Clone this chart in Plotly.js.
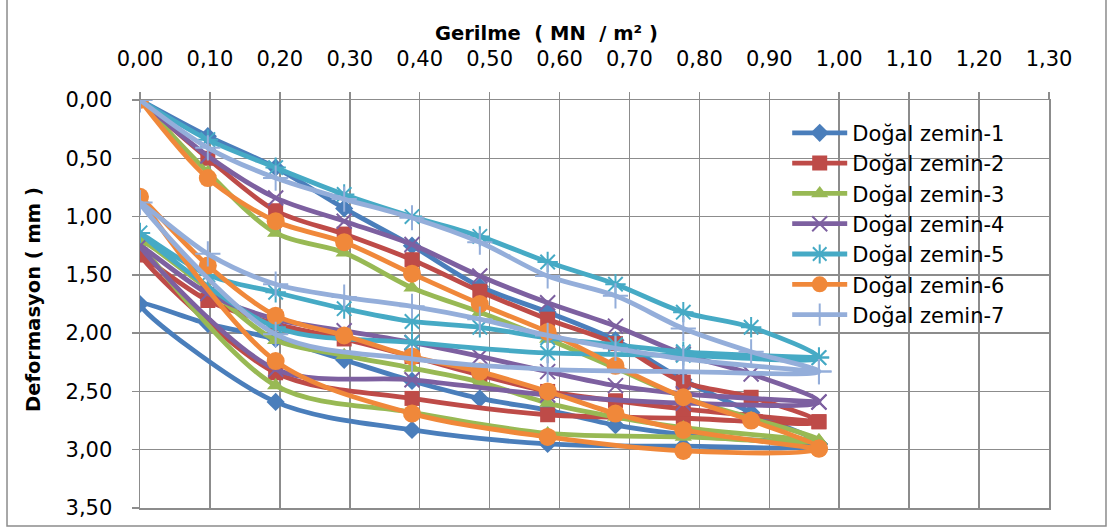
<!DOCTYPE html>
<html>
<head>
<meta charset="utf-8">
<script src="https://cdn.plot.ly/plotly-3.0.1.min.js"></script>
<style>
  html, body { margin: 0; padding: 0; background: #ffffff; }
  #chart { width: 1112px; height: 528px; }
</style>
</head>
<body>
<div id="chart"></div>
<script>
// Stress steps (MN/m²)
const loadStress   = [0.000, 0.097, 0.194, 0.292, 0.389, 0.486, 0.583, 0.680, 0.777, 0.874, 0.971];
const unloadStress = [0.777, 0.583, 0.389, 0.194, 0.000];
const reloadStress = [0.097, 0.194, 0.292, 0.389, 0.486, 0.583, 0.680, 0.777, 0.971];

const seriesNames = ['Doğal zemin-1', 'Doğal zemin-2', 'Doğal zemin-3', 'Doğal zemin-4',
                     'Doğal zemin-5', 'Doğal zemin-6', 'Doğal zemin-7'];

// Deformation (mm) — loading, unloading, reloading
const z1Load   = [0, 0.31, 0.58, 0.93, 1.25, 1.60, 1.82, 2.06, 2.40, 2.68, 2.95];
const z1Unload = [2.97, 2.95, 2.83, 2.59, 1.75];
const z1Reload = [1.92, 2.05, 2.23, 2.41, 2.56, 2.66, 2.79, 2.87, 2.95];

const z2Load   = [0, 0.50, 0.95, 1.15, 1.37, 1.64, 1.88, 2.09, 2.42, 2.55, 2.76];
const z2Unload = [2.73, 2.70, 2.56, 2.34, 1.33];
const z2Reload = [1.72, 1.92, 2.05, 2.20, 2.36, 2.50, 2.58, 2.65, 2.76];

const z3Load   = [0, 0.62, 1.14, 1.31, 1.61, 1.82, 2.05, 2.30, 2.55, 2.73, 2.92];
const z3Unload = [2.89, 2.86, 2.68, 2.45, 1.20];
const z3Reload = [1.62, 2.06, 2.19, 2.30, 2.42, 2.60, 2.72, 2.81, 2.92];

const z4Load   = [0, 0.48, 0.84, 1.04, 1.24, 1.51, 1.74, 1.94, 2.18, 2.35, 2.59];
const z4Unload = [2.60, 2.53, 2.40, 2.31, 1.25];
const z4Reload = [1.66, 1.88, 1.98, 2.08, 2.20, 2.33, 2.45, 2.52, 2.59];

const z5Load   = [0, 0.34, 0.58, 0.81, 1.00, 1.17, 1.39, 1.58, 1.82, 1.95, 2.21];
const z5Unload = [2.19, 2.17, 2.08, 1.95, 1.14];
const z5Reload = [1.50, 1.65, 1.79, 1.90, 1.95, 2.04, 2.10, 2.16, 2.21];

const z6Load   = [0, 0.67, 1.04, 1.22, 1.49, 1.75, 1.99, 2.28, 2.55, 2.75, 2.99];
const z6Unload = [3.01, 2.89, 2.69, 2.24, 0.83];
const z6Reload = [1.42, 1.85, 2.02, 2.20, 2.33, 2.50, 2.69, 2.83, 2.99];

const z7Load   = [0, 0.41, 0.67, 0.85, 1.01, 1.22, 1.51, 1.68, 1.96, 2.16, 2.33];
const z7Unload = [2.33, 2.31, 2.22, 2.01, 0.88];
const z7Reload = [1.32, 1.58, 1.69, 1.77, 1.88, 2.02, 2.13, 2.22, 2.33];

const xTickVals = [0, 0.1, 0.2, 0.3, 0.4, 0.5, 0.6, 0.7, 0.8, 0.9, 1.0, 1.1, 1.2, 1.3];
const yTickVals = [0, 0.5, 1.0, 1.5, 2.0, 2.5, 3.0, 3.5];

const xTitle = 'Gerilme \u00A0( MN \u00A0/ m² )';
const yTitle = 'Deformasyon ( mm )';

// Styling
const colors  = ['#4A7EBB', '#BE4B48', '#98B954', '#7D60A0', '#46AAC5', '#F0883A', '#94AEDA'];
const symbols = ['diamond', 'square', 'triangle-up', 'x-thin', 'asterisk', 'circle', 'cross-thin'];
const msizes  = [14, 15, 15, 15, 17, 18, 18];

const loads   = [z1Load, z2Load, z3Load, z4Load, z5Load, z6Load, z7Load];
const unloads = [z1Unload, z2Unload, z3Unload, z4Unload, z5Unload, z6Unload, z7Unload];
const reloads = [z1Reload, z2Reload, z3Reload, z4Reload, z5Reload, z6Reload, z7Reload];

const xAll = loadStress.concat(unloadStress, reloadStress);

const traces = seriesNames.map((name, i) => {
  const thin = (symbols[i] === 'x-thin' || symbols[i] === 'asterisk' || symbols[i] === 'cross-thin');
  return {
    type: 'scatter',
    mode: 'lines+markers',
    name: name,
    x: xAll,
    y: loads[i].concat(unloads[i], reloads[i]),
    line: { color: colors[i], width: 4.8, shape: 'spline', smoothing: 0.9 },
    marker: {
      symbol: symbols[i],
      size: msizes[i],
      color: colors[i],
      line: thin ? { color: colors[i], width: 2 } : { width: 0 }
    },
    legendgroup: 'g' + i,
    hoverinfo: 'skip'
  };
});

const gridColor = '#8C8C8C';
const font = "'DejaVu Sans', 'Open Sans', sans-serif";

const layout = {
  width: 1112,
  height: 528,
  paper_bgcolor: '#ffffff',
  plot_bgcolor: '#ffffff',
  separators: ',.',
  margin: { l: 140, r: 63, t: 100, b: 20 },
  font: { family: font, size: 21, color: '#000000' },
  showlegend: true,
  legend: {
    x: 0.712, y: 0.969, xanchor: 'left', yanchor: 'top',
    bgcolor: 'rgba(0,0,0,0)',
    font: { family: font, size: 21, color: '#000000' },
    itemwidth: 55,
    tracegroupgap: 0,
    traceorder: 'normal'
  },
  xaxis: {
    side: 'top',
    range: [0, 1.3],
    tickvals: xTickVals,
    tickformat: '.2f',
    showgrid: true,
    gridcolor: gridColor,
    gridwidth: 1.5,
    showline: true,
    linecolor: gridColor,
    linewidth: 1.5,
    mirror: true,
    ticks: 'outside',
    ticklen: 7,
    tickwidth: 1.5,
    tickcolor: gridColor,
    ticklabelstandoff: 17,
    zeroline: false,
    tickfont: { family: font, size: 21, color: '#000000' }
  },
  yaxis: {
    range: [3.5, 0],
    tickvals: yTickVals,
    tickformat: '.2f',
    showgrid: true,
    gridcolor: gridColor,
    gridwidth: 1.5,
    showline: true,
    linecolor: gridColor,
    linewidth: 1.5,
    mirror: true,
    ticks: 'outside',
    ticklen: 7,
    tickwidth: 1.5,
    tickcolor: gridColor,
    ticklabelstandoff: 15,
    zeroline: false,
    tickfont: { family: font, size: 21, color: '#000000' }
  },
  annotations: [
    {
      text: '<b>' + xTitle + '</b>',
      xref: 'paper', yref: 'paper',
      x: 0.4477, y: 1.164, xanchor: 'center', yanchor: 'middle',
      showarrow: false,
      font: { family: font, size: 19.5, color: '#000000' }
    },
    {
      text: '<b>' + yTitle + '</b>',
      xref: 'paper', yref: 'paper',
      x: -0.1166, y: 0.51, xanchor: 'center', yanchor: 'middle',
      textangle: -90,
      showarrow: false,
      font: { family: font, size: 19.5, color: '#000000' }
    }
  ],
  shapes: [{
    type: 'rect', xref: 'paper', yref: 'paper',
    x0: -0.1463, x1: 1.0627, y0: -0.0441, y1: 1.4,
    line: { color: '#8C8C8C', width: 1.5 },
    fillcolor: 'rgba(0,0,0,0)',
    layer: 'below'
  }]
};

Plotly.newPlot('chart', traces, layout, { displayModeBar: false, staticPlot: true });
</script>
</body>
</html>
